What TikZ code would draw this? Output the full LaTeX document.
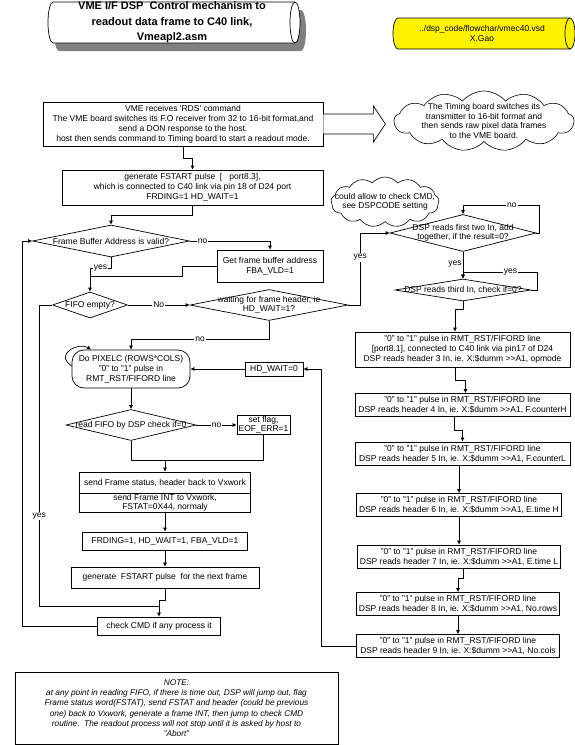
\documentclass[tikz,border=0pt]{standalone}
\usepackage{fontspec}
\setmainfont{Liberation Sans}
\usetikzlibrary{shapes.geometric, shapes.symbols, arrows.meta, calc}

\begin{document}
\begin{tikzpicture}[x=1pt, y=-1pt, line width=0.7pt,
  every node/.style={font=\fontsize{8.5}{10}\selectfont},
  box/.style={draw, fill=white, align=center, inner sep=1pt},
  dec/.style={draw, diamond, fill=white, inner sep=0pt},
  puff/.style={draw, cloud, cloud puffs=13, cloud puff arc=100, cloud ignores aspect, inner sep=0pt, line width=0.6pt},
  say/.style={label={[align=center, inner sep=0pt, font=\fontsize{8.5}{9.5}\selectfont]center:#1}},
  lbl/.style={fill=white, inner sep=1pt},
  arr/.style={-{Latex[length=4pt,width=4pt]}}]
\useasboundingbox (0,0) rectangle (575,745);

% header scrolls
\fill[gray] (59,10) -- (301,10) arc[start angle=90, end angle=-90, x radius=5pt, y radius=20.5pt]
  -- (59,51) arc[start angle=270, end angle=90, x radius=5pt, y radius=20.5pt] -- cycle;
\draw[fill=white] (53,2) -- (295,2) arc[start angle=90, end angle=-90, x radius=5pt, y radius=20.5pt]
  -- (53,43) arc[start angle=270, end angle=90, x radius=5pt, y radius=20.5pt] -- cycle;
\draw (295,2) arc[start angle=90, end angle=270, x radius=5pt, y radius=20.5pt];
\node[align=center, font=\fontsize{11}{15.5}\selectfont\bfseries] (title) at (172,22.5)
  {VME I/F DSP\ \ Control mechanism to\\readout data frame to C40 link,\\Vmeapl2.asm};
\draw[fill=yellow] (398,18) -- (570,18) arc[start angle=90, end angle=-90, x radius=5pt, y radius=15.5pt]
  -- (398,49) arc[start angle=270, end angle=90, x radius=5pt, y radius=15.5pt] -- cycle;
\draw (570,18) arc[start angle=90, end angle=270, x radius=5pt, y radius=15.5pt];
\node[align=center] (src) at (482,33.5) {../dsp\_code/flowchar/vmec40.vsd\\X.Gao};

% start of readout
\node[box, minimum width=280, minimum height=44] (vme) at (183,124)
  {VME receives \textquotesingle RDS\textquotesingle{} command\\The VME board switches its F.O receiver from 32 to 16-bit format,and\\send a DON response to the host.\\host then sends command to Timing board to start a readout mode.};
\draw[fill=white] ($(vme.east)+(0,-10)$) -- ++(50,0) -- ++(0,-8) -- ++(12,18) -- ++(-12,18) -- ++(0,-8) -- ++(-50,0);
\node[puff, minimum width=180, minimum height=60,
  say={The Timing board switches its\\transmitter to 16-bit format and\\then sends raw pixel data frames\\to the VME board.}] (tcloud) at (484,121) {};
\node[box, minimum width=261, minimum height=35] (fstart) at (192.5,187.5)
  {generate FSTART pulse\ \ [\ \ \ port8.3],\\which is connected to C40 link via pin 18 of D24 port\\FRDING=1 HD\_WAIT=1};
\draw[arr] (vme.south) -- ++(0,12) -| (fstart.north);
\node[puff, minimum width=108, minimum height=50,
  say={could allow to check CMD,\\see DSPCODE setting}] (ccloud) at (385,202) {};

% left column
\node[dec, minimum width=157, minimum height=32, say={Frame Buffer Address is valid?}] (d1) at (111,241) {};
\draw[arr] (fstart.south) -- ++(0,10) -| (d1.north);
\node[box, minimum width=106, minimum height=32] (getfba) at (270,266) {Get frame buffer address\\FBA\_VLD=1};
\draw[arr] (d1.east) -| node[lbl, pos=.08]{no} (getfba.north);
\node[dec, minimum width=75, minimum height=26, say={FIFO empty?}] (fifo) at (90,305) {};
\coordinate (j1) at (90,276);
\draw[arr] (d1.south) -- ++(0,11) -| node[lbl, pos=.25]{yes} (fifo.north);
\draw (getfba.west) -- ++(-34,0) |- (j1);
\node[dec, minimum width=158, minimum height=31, say={waiting for frame header, ie\\HD\_WAIT=1?}] (waitd) at (269,305) {};
\draw[arr] (fifo.east) -- node[lbl]{No} (waitd.west);
\node[dec, minimum width=146, minimum height=37, say={DSP reads first two In, add\\together, if the result=0?}] (rd1) at (463,233) {};
\draw[arr] (waitd.east) -- ++(12,0) |- node[lbl, pos=.33]{yes} (rd1.west);

\node[box, rounded corners=12pt, minimum width=118, minimum height=38] (pix) at (131,369)
  {Do PIXELC (ROWS*COLS)\\"0" to "1" pulse in\\RMT\_RST/FIFORD line};
\draw[arr] (waitd.south) -- ++(0,18) -| node[lbl, pos=.25]{no} (pix.north);
\draw[arr] ([yshift=3pt]pix.west) .. controls +(-18,-12) and +(-12,-8) .. ([xshift=-40pt]pix.north);
\node[box, minimum width=58, minimum height=14] (hdw0) at (274,369) {HD\_WAIT=0};
\draw[arr] (hdw0.west) -- (pix.east);

\node[dec, minimum width=130, minimum height=31, say={read FIFO by DSP check if=0}] (rfifo) at (131,425) {};
\draw[arr] (pix.south) -- (rfifo.north);
\node[box, minimum width=53, minimum height=19, font=\fontsize{8.5}{8.5}\selectfont] (setflag) at (263.5,425) {set flag,\\EOF\_ERR=1};
\draw[arr] (rfifo.east) -- node[lbl]{no} (setflag.west);

\node[box, minimum width=171, minimum height=40] (sendf) at (165,492) {};
\draw ([yshift=-1pt]sendf.west) -- ([yshift=-1pt]sendf.east);
\node[inner sep=0pt] (sendf1) at (165,482.5) {send Frame status, header back to Vxwork};
\node[inner sep=0pt, align=center, font=\fontsize{8.5}{9.5}\selectfont] (sendf2) at (165,503) {send Frame INT to Vxwork,\\FSTAT=0X44, normaly};
\coordinate (j3) at (165,460);
\draw[arr] (rfifo.south) -- ++(0,19.5) -| (sendf.north);
\draw (setflag.south) |- (j3);

\node[box, minimum width=165, minimum height=18] (frding) at (165,541) {FRDING=1, HD\_WAIT=1, FBA\_VLD=1};
\draw[arr] (sendf.south) -- (frding.north);
\node[box, minimum width=188, minimum height=21] (gen) at (165,577.5) {generate\ \ FSTART pulse\ \ for the next frame};
\draw[arr] (frding.south) -- (gen.north);
\node[box, minimum width=123, minimum height=18] (chk) at (159,626) {check CMD if any process it};
\draw[arr] (gen.south) -- ++(0,12) -| (chk.north);
\coordinate (j2) at (159,606);
\draw (fifo.west) -- ++(-13,0) |- node[lbl, pos=.35]{yes} (j2);
\draw[arr] (chk.west) -- ++(-75,0) |- (d1.west);

% right column: header words
\draw[arr] (rd1.east) -- ++(3,0) -- ++(0,-28) -| node[lbl, pos=.18]{no} (rd1.north);
\node[dec, minimum width=136, minimum height=22, say={DSP reads third In, check if=0?}] (rd2) at (463,290) {};
\draw[arr] (rd1.south) -- node[left, inner sep=1pt, pos=.45]{yes} (rd2.north);
\draw[arr] (rd2.east) -- ++(6,0) -- ++(0,-18) -| node[lbl, pos=.18]{yes} (rd2.north);
\node[box, minimum width=215, minimum height=35] (h3) at (462.5,349.5)
  {"0" to "1" pulse in RMT\_RST/FIFORD line\\{[port8.1]}, connected to C40 link via pin17 of D24\\DSP reads header 3 In, ie. X:\$dumm >{}>A1, opmode};
\draw[arr] (rd2.south) -- ++(0,8) -| ([xshift=-7.5pt]h3.north);
\foreach \hd/\xx/\yy/\bw/\what in {4/462.5/405/215/F.counterH, 5/462.5/453.5/215/F.counterL,
    6/459/505/205/E.time H, 7/459/556.5/203/E.time L, 8/458/604/203/No.rows, 9/458/646/203/No.cols}
  \node[box, minimum width=\bw, minimum height=23] (h\hd) at (\xx,\yy)
    {"0" to "1" pulse in RMT\_RST/FIFORD line\\DSP reads header \hd\ In, ie. X:\$dumm >{}>A1, \what};
\draw[arr] ([xshift=-7pt]h3.south) -- ++(0,13) -| ([xshift=3pt]h4.north);
\draw[arr] ([xshift=-8pt]h4.south) -- ++(0,13) -| (h5.north);
\draw[arr] ([xshift=-3.5pt]h5.south) -- (h6.north);
\draw[arr] (h6.south) -- (h7.north);
\draw[arr] ([xshift=4pt]h7.south) -- ++(0,10) -| (h8.north);
\draw[arr] (h8.south) -- (h9.north);
\draw[arr] (h9.west) -- ++(-34.5,0) |- (hdw0.east);

% note
\node[box, minimum width=323, minimum height=72, font=\fontsize{8.3}{10.3}\selectfont\itshape] (note) at (176.5,708)
  {NOTE:\\at any point in reading FIFO, if there is time out, DSP will jump out, flag\\Frame status word(FSTAT), send FSTAT and header (could be previous\\one) back to Vxwork, generate a frame INT, then jump to check CMD\\routine.\ \ The readout process will not stop until it is asked by host to\\"Abort"};
\end{tikzpicture}
\end{document}
